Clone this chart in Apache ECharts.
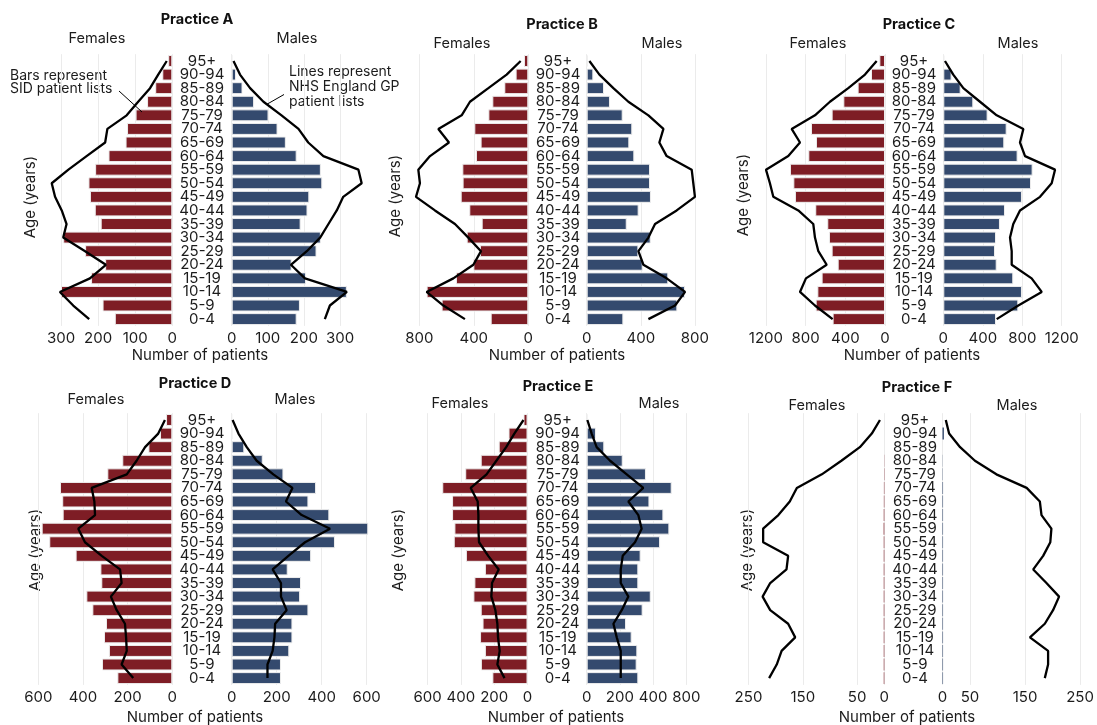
<!DOCTYPE html>
<html>
<head>
<meta charset="utf-8">
<script src="https://cdn.jsdelivr.net/npm/echarts@6/dist/echarts.min.js"></script>
<style>
  html, body { margin: 0; padding: 0; background: #ffffff; }
  #chart { width: 1097px; height: 725px; }
</style>
</head>
<body>
<div id="chart"></div>
<script>
// Age bands, bottom (youngest) to top (oldest)
const ageGroups = ['0-4', '5-9', '10-14', '15-19', '20-24', '25-29', '30-34', '35-39', '40-44', '45-49',
  '50-54', '55-59', '60-64', '65-69', '70-74', '75-79', '80-84', '85-89', '90-94', '95+'];

// Practice A — bars: SID patient lists, lines: NHS England GP patient lists
const aFemaleBars = [155, 188, 300, 219, 181, 235, 294, 193, 209, 222, 226, 208, 172, 126, 122, 99, 68, 46, 27, 11];
const aFemaleLine = [224, 267, 303, 222, 179, 235, 294, 285, 298, 316, 325, 280, 231, 181, 175, 123, 92, 60, 38, 15];
const aMaleBars = [180, 189, 319, 206, 166, 235, 247, 191, 210, 215, 251, 247, 180, 150, 127, 102, 62, 30, 12, 1];
const aMaleLine = [258, 272, 319, 203, 164, 208, 245, 268, 291, 309, 360, 351, 254, 212, 185, 138, 88, 51, 23, 5];

// Practice B
const bFemaleBars = [276, 636, 746, 531, 403, 355, 452, 342, 433, 496, 482, 484, 384, 350, 396, 293, 264, 176, 93, 32];
const bFemaleLine = [465, 623, 746, 550, 403, 347, 440, 538, 685, 824, 795, 807, 721, 582, 660, 489, 428, 293, 159, 56];
const bMaleBars = [271, 670, 727, 603, 414, 382, 473, 296, 384, 475, 468, 468, 352, 315, 337, 266, 172, 128, 49, 7];
const bMaleLine = [456, 653, 727, 591, 419, 382, 456, 505, 665, 800, 788, 776, 591, 537, 567, 456, 308, 197, 94, 20];

// Practice C
const cFemaleBars = [528, 699, 682, 639, 477, 538, 565, 582, 703, 908, 924, 958, 773, 696, 746, 538, 420, 276, 141, 57];
const cFemaleLine = [528, 706, 857, 797, 588, 672, 706, 723, 874, 1126, 1160, 1200, 975, 857, 941, 706, 555, 370, 202, 84];
const cMaleBars = [534, 760, 797, 709, 541, 524, 534, 574, 625, 797, 889, 905, 753, 618, 642, 449, 304, 176, 84, 10];
const cMaleLine = [541, 760, 997, 895, 693, 693, 676, 709, 777, 980, 1098, 1132, 828, 777, 811, 541, 372, 203, 101, 17];

// Practice D
const dFemaleBars = [246, 315, 284, 306, 297, 358, 385, 318, 322, 433, 551, 585, 491, 493, 503, 291, 224, 107, 55, 28];
const dFemaleLine = [175, 227, 204, 207, 212, 249, 275, 227, 234, 316, 391, 421, 346, 349, 361, 204, 160, 122, 63, 33];
const dMaleBars = [219, 219, 256, 270, 270, 341, 304, 308, 249, 353, 459, 607, 434, 341, 375, 230, 138, 56, 3, 0];
const dMaleLine = [159, 159, 182, 190, 193, 244, 219, 219, 182, 252, 326, 437, 311, 241, 270, 185, 111, 67, 30, 4];

// Practice E
const eFemaleBars = [211, 280, 256, 285, 270, 281, 325, 319, 256, 370, 443, 439, 453, 453, 512, 374, 281, 173, 114, 24];
const eFemaleLine = [138, 181, 167, 177, 181, 193, 217, 213, 173, 236, 291, 295, 295, 299, 341, 246, 187, 128, 79, 24];
const eMaleBars = [311, 301, 305, 271, 237, 337, 386, 311, 311, 325, 442, 498, 462, 378, 512, 357, 217, 106, 56, 4];
const eMaleLine = [205, 205, 205, 181, 161, 211, 251, 205, 205, 217, 291, 331, 311, 251, 341, 241, 141, 60, 30, 4];

// Practice F
const fFemaleBars = [1, 1, 1, 1, 1, 1, 1, 1, 1, 1, 1, 1.2, 1, 0.8, 0.7, 0.5, 0.3, 0, 0, 0];
const fFemaleLine = [212, 198, 189, 164, 177, 210, 224, 210, 180, 177, 223, 223, 195, 174, 161, 115, 79, 45, 23, 8];
const fMaleBars = [1, 1, 1, 1, 1, 1, 1, 1, 1, 1, 1, 1, 1, 1, 1, 0.5, 0.3, 0, 2.5, 0];
const fMaleLine = [186, 192, 192, 159, 186, 201, 212, 189, 165, 183, 196, 198, 180, 177, 153, 98, 59, 32, 12, 6];

// Tick values and tick labels per axis
const ticksA = [0, 100, 200, 300];
const ticksB = [0, 400, 800];
const ticksC = [0, 400, 800, 1200];
const ticksD = [0, 200, 400, 600];
const ticksE = [0, 200, 400, 600];
const eFemaleTickLabels = ['0', '200', '400', '600'];
const eMaleTickLabels = ['0', '200', '400', '800'];
const ticksF = [0, 50, 150, 250];

const practiceNames = ['Practice A', 'Practice B', 'Practice C', 'Practice D', 'Practice E', 'Practice F'];

const FONT = 'Inter, "Open Sans", "DejaVu Sans", sans-serif';
const TEXT = '#1c1c1c';
const RED = '#7e1d25';
const BLUE = '#344a6e';
const GRID = '#ebebeb';

// Geometry of each panel (pixels)
const ROW_TOP = [54.2, 413.2];
const ROW_H = 271.7;
const panels = [
  { fb: aFemaleBars, fl: aFemaleLine, mb: aMaleBars, ml: aMaleLine, fTicks: ticksA, mTicks: ticksA,
    fRight: 172.3, fMax: 335, fScale: 0.371, mLeft: 231.7, mMax: 365, mScale: 0.361, row: 0, mid: 202,
    title: [197, 20], females: [97, 39], males: [297, 39], xname: [200, 355], yname: [30, 197], border: 1 },
  { fb: bFemaleBars, fl: bFemaleLine, mb: bMaleBars, ml: bMaleLine, fTicks: ticksB, mTicks: ticksB,
    fRight: 528.3, fMax: 830, fScale: 0.1363, mLeft: 586.7, mMax: 820, mScale: 0.1353, row: 0, mid: 558,
    title: [562, 25], females: [462, 44], males: [662, 44], xname: [557, 355], yname: [395, 196], border: 1 },
  { fb: cFemaleBars, fl: cFemaleLine, mb: cMaleBars, ml: cMaleLine, fTicks: ticksC, mTicks: ticksC,
    fRight: 885, fMax: 1230, fScale: 0.0992, mLeft: 943.3, mMax: 1230, mScale: 0.0987, row: 0, mid: 914,
    title: [919, 25], females: [818, 44], males: [1018, 44], xname: [912, 355], yname: [743, 195], border: 1 },
  { fb: dFemaleBars, fl: dFemaleLine, mb: dMaleBars, ml: dMaleLine, fTicks: ticksD, mTicks: ticksD,
    fRight: 172.3, fMax: 600, fScale: 0.2233, mLeft: 231.7, mMax: 610, mScale: 0.225, row: 1, mid: 202,
    title: [195, 384], females: [96, 400], males: [295, 400], xname: [195, 717], yname: [35, 550], border: 1 },
  { fb: eFemaleBars, fl: eFemaleLine, mb: eMaleBars, ml: eMaleLine, fTicks: ticksE, mTicks: ticksE,
    fLabels: eFemaleTickLabels, mLabels: eMaleTickLabels,
    fRight: 527.5, fMax: 650, fScale: 0.1665, mLeft: 586.7, mMax: 620, mScale: 0.166, row: 1, mid: 557.7,
    title: [558, 387], females: [460, 404], males: [659, 404], xname: [556, 717], yname: [398, 550], border: 1 },
  { fb: fFemaleBars, fl: fFemaleLine, mb: fMaleBars, ml: fMaleLine, fTicks: ticksF, mTicks: ticksF,
    fRight: 884.3, fMax: 255, fScale: 0.5433, mLeft: 942.5, mMax: 255, mScale: 0.55, row: 1, mid: 915,
    title: [917, 388], females: [817, 406], males: [1017, 406], xname: [907, 717], yname: [747, 550], border: 0 }
];

const grid = [], xAxis = [], yAxis = [], series = [], graphic = [];

function labelFormatter(ticks, labels) {
  return function (v) {
    const k = ticks.indexOf(v);
    if (k < 0) return '';
    return labels ? labels[k] : String(v);
  };
}

panels.forEach(function (p, i) {
  const top = ROW_TOP[p.row];
  const sides = [
    { female: true, bars: p.fb, line: p.fl, ticks: p.fTicks, labels: p.fLabels, max: p.fMax,
      width: p.fMax * p.fScale, left: p.fRight - p.fMax * p.fScale, color: RED },
    { female: false, bars: p.mb, line: p.ml, ticks: p.mTicks, labels: p.mLabels, max: p.mMax,
      width: p.mMax * p.mScale, left: p.mLeft, color: BLUE }
  ];
  sides.forEach(function (s) {
    const gi = grid.length;
    grid.push({ left: s.left, top: top, width: s.width, height: ROW_H, containLabel: false });
    xAxis.push({
      gridIndex: gi, type: 'value', min: 0, max: s.max, inverse: s.female,
      axisLine: { show: false },
      axisTick: { show: false, customValues: s.ticks },
      axisLabel: {
        customValues: s.ticks, formatter: labelFormatter(s.ticks, s.labels),
        fontFamily: FONT, fontSize: 15, color: TEXT, margin: 5
      },
      splitLine: { show: true, lineStyle: { color: GRID, width: 1 } }
    });
    yAxis.push({
      gridIndex: gi, type: 'category', data: ageGroups,
      axisLine: { show: false }, axisTick: { show: false }, splitLine: { show: false },
      axisLabel: s.female ? { show: false } : {
        show: true, interval: 0, align: 'center', margin: p.mLeft - p.mid,
        fontFamily: FONT, fontSize: 15, color: TEXT, lineHeight: 13
      }
    });
    series.push({
      type: 'bar', xAxisIndex: gi, yAxisIndex: gi, data: s.bars, barCategoryGap: '12%',
      itemStyle: { color: s.color, borderColor: '#eeeeee', borderWidth: p.border }, silent: true, z: 2
    });
    series.push({
      type: 'line', xAxisIndex: gi, yAxisIndex: gi,
      data: s.line.map(function (v, k) { return [v, ageGroups[k]]; }),
      symbol: 'none', lineStyle: { color: '#000000', width: 2.3 }, silent: true, z: 3
    });
  });

  const t = function (pos, text, opts) {
    graphic.push(Object.assign({
      type: 'text', x: pos[0], y: pos[1], silent: true,
      style: Object.assign({ text: text, fill: TEXT, font: '15px ' + FONT, align: 'center', verticalAlign: 'middle' }, opts || {})
    }));
  };
  t(p.title, practiceNames[i], { font: 'bold 14.5px ' + FONT, fill: '#111111' });
  t(p.females, 'Females', { font: '14.5px ' + FONT });
  t(p.males, 'Males', { font: '14.5px ' + FONT });
  t(p.xname, 'Number of patients', { font: '15px ' + FONT });
  graphic.push({
    type: 'text', x: p.yname[0], y: p.yname[1], rotation: Math.PI / 2, silent: true,
    style: { text: 'Age (years)', fill: TEXT, font: '15px ' + FONT, align: 'center', verticalAlign: 'middle' }
  });
});

// Explanatory notes on Practice A
graphic.push({
  type: 'text', x: 10, y: 82.5, silent: true,
  style: { text: 'Bars represent\nSID patient lists', fill: TEXT, font: '14px ' + FONT, lineHeight: 13.5,
           align: 'left', verticalAlign: 'middle' }
});
graphic.push({
  type: 'line', silent: true, z: 10,
  shape: { x1: 119, y1: 91, x2: 142, y2: 112 }, style: { stroke: '#000000', lineWidth: 1 }
});
graphic.push({
  type: 'text', x: 289, y: 86.7, silent: true,
  style: { text: 'Lines represent\nNHS England GP\npatient lists', fill: TEXT, font: '14px ' + FONT,
           lineHeight: 15, align: 'left', verticalAlign: 'middle' }
});
graphic.push({
  type: 'line', silent: true, z: 10,
  shape: { x1: 284, y1: 94.5, x2: 266.5, y2: 104.5 }, style: { stroke: '#000000', lineWidth: 1 }
});

const chart = echarts.init(document.getElementById('chart'), null, { renderer: 'canvas' });
chart.setOption({
  animation: false,
  backgroundColor: '#ffffff',
  grid: grid, xAxis: xAxis, yAxis: yAxis, series: series, graphic: graphic
});
</script>
</body>
</html>
